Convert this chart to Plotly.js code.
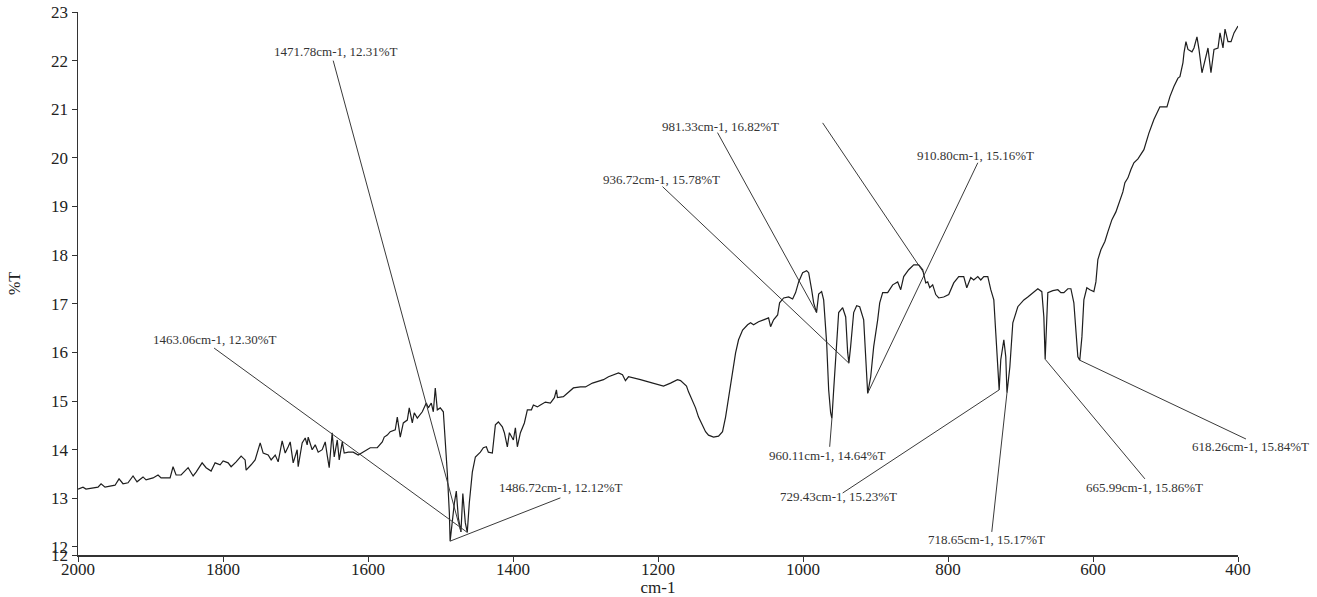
<!DOCTYPE html>
<html>
<head>
<meta charset="utf-8">
<script src="https://cdn.plot.ly/plotly-3.0.1.min.js"></script>
<style>html,body{margin:0;padding:0;background:#fff;}#chart{width:1317px;height:597px;}</style>
</head>
<body>
<div id="chart"></div>
<script>
// Spectrum: wavenumber (cm-1) and transmittance (%T)
const wavenumber = [
2000,1993.1,1989.0,1972.4,1968.2,1962.7,1948.9,1943.4,1937.9,1931.0,1924.1,1918.6,1910.3,1906.1,1896.5,1889.6,1885.4,1873.0,1868.9,1864.7,
1857.8,1848.1,1841.2,1837.1,1828.8,1823.3,1816.4,1810.9,1804.0,1799.8,1792.9,1788.8,1781.9,1775.0,1769.5,1768.1,1761.2,1755.7,1748.7,1744.6,
1737.7,1733.6,1728.0,1723.9,1718.4,1714.2,1710.1,1707.3,1703.2,1697.7,1696.3,1690.8,1686.6,1683.9,1682.5,1677.0,1672.8,1668.7,1663.2,1659.0,
1656.3,1653.5,1649.4,1646.6,1642.4,1639.7,1635.5,1632.8,1627.3,1620.4,1613.5,1606.6,1596.9,1587.2,1580.3,1577.6,1573.4,1569.3,1562.4,1559.6,
1555.5,1551.3,1545.8,1543.1,1538.9,1536.2,1532.0,1525.1,1519.6,1516.8,1512.7,1509.9,1507.2,1504.4,1500.3,1496.1,1493.4,1490.6,1487.8,1486.72,
1480.9,1478.2,1475.4,1471.78,1469.2,1465.8,1463.06,1460.3,1456.1,1451.9,1445.0,1440.9,1436.8,1434.0,1428.5,1424.3,1420.2,1414.7,1411.9,1407.8,
1405.0,1399.5,1396.7,1394.0,1389.8,1384.3,1380.2,1374.6,1371.9,1366.4,1362.2,1355.3,1348.4,1342.9,1340.1,1338.7,1330.5,1323.6,1316.7,1307.0,
1300.1,1290.4,1283.5,1275.2,1268.3,1261.4,1254.5,1249.0,1244.9,1240.7,1233.8,1224.2,1214.5,1206.2,1192.4,1182.7,1173.1,1168.9,1164.8,1160.7,
1157.9,1152.4,1148.2,1144.1,1138.6,1134.4,1130.3,1123.4,1116.5,1111.0,1106.8,1102.7,1097.2,1093.0,1088.9,1083.3,1076.4,1072.3,1068.2,1061.3,
1054.4,1047.5,1044.7,1040.6,1035.0,1032.3,1026.7,1019.8,1014.3,1010.2,1006.0,1000.5,995.0,992.2,988.1,985.3,981.33,978.4,974.3,971.5,
967.4,964.6,961.9,960.11,957.7,953.6,950.8,945.3,941.1,938.4,936.72,934.3,930.1,926.0,921.8,916.3,913.5,910.80,906.6,902.5,
897.0,894.2,890.1,883.2,876.3,869.4,865.2,861.1,854.2,847.3,840.4,834.9,830.7,828.0,825.2,821.1,816.9,812.8,805.9,799.0,
792.1,785.2,778.3,774.1,768.6,764.5,758.9,754.8,750.6,745.1,741.0,736.8,734.1,729.43,727.2,723.0,720.3,718.65,714.7,710.6,
703.7,695.4,689.9,681.6,676.1,670.6,667.8,665.99,663.7,662.3,655.4,648.5,644.3,640.2,634.7,630.5,626.4,623.6,620.9,618.26,
615.3,612.6,608.5,604.3,598.8,596.0,593.3,589.1,583.6,579.5,573.9,568.4,564.3,558.8,556.0,551.8,547.7,543.6,538.0,529.8,
522.9,516.0,507.7,498.0,493.9,488.4,482.8,480.1,475.9,474.5,471.8,469.0,463.5,460.7,456.6,453.8,449.7,445.6,441.4,437.3,
433.1,427.6,424.8,420.7,417.9,413.8,409.6,405.5,402.7,400.0
];
const transmittance = [
13.19,13.23,13.19,13.23,13.30,13.23,13.27,13.40,13.30,13.32,13.46,13.34,13.44,13.38,13.42,13.48,13.42,13.42,13.65,13.48,
13.48,13.63,13.46,13.54,13.73,13.63,13.56,13.73,13.69,13.77,13.73,13.65,13.75,13.87,13.79,13.58,13.69,13.79,14.14,13.93,
13.89,13.79,13.89,13.75,14.18,13.93,14.06,14.16,13.73,14.00,13.65,14.14,14.24,14.10,14.26,14.00,14.10,13.95,14.00,14.16,
13.89,13.63,14.35,13.85,14.20,13.79,14.16,13.93,13.95,13.95,13.89,13.95,14.04,14.04,14.16,14.26,14.30,14.37,14.41,14.67,
14.26,14.55,14.61,14.86,14.55,14.76,14.65,14.78,14.96,14.86,14.96,14.78,15.27,14.82,14.86,14.78,14.26,13.52,12.70,12.12,
12.90,13.15,12.60,12.31,13.10,12.50,12.30,12.90,13.54,13.85,13.95,14.04,14.06,13.95,13.93,14.51,14.57,14.47,14.35,14.06,
14.35,14.20,14.45,14.06,14.35,14.55,14.82,14.82,14.92,14.88,14.92,14.98,14.96,15.07,15.23,15.07,15.09,15.19,15.27,15.29,
15.29,15.37,15.40,15.44,15.50,15.54,15.58,15.54,15.42,15.50,15.48,15.44,15.40,15.37,15.31,15.37,15.44,15.42,15.37,15.31,
15.19,15.02,14.86,14.67,14.49,14.37,14.30,14.26,14.28,14.37,14.67,15.09,15.60,15.99,16.26,16.46,16.57,16.61,16.57,16.63,
16.67,16.71,16.53,16.67,16.77,17.02,17.12,17.14,17.10,17.23,17.45,17.64,17.68,17.64,17.29,17.02,16.82,17.20,17.25,17.08,
16.20,15.23,14.76,14.64,15.23,16.26,16.82,16.92,16.73,16.00,15.78,16.12,16.82,16.96,16.94,16.67,15.79,15.16,15.50,16.12,
16.67,17.02,17.23,17.23,17.39,17.45,17.29,17.56,17.70,17.80,17.80,17.70,17.43,17.45,17.33,17.39,17.19,17.12,17.14,17.19,
17.43,17.56,17.56,17.33,17.54,17.49,17.56,17.49,17.56,17.56,17.29,17.08,16.40,15.23,15.85,16.26,15.91,15.17,15.70,16.61,
16.94,17.08,17.14,17.25,17.31,17.25,16.73,15.86,16.73,17.23,17.27,17.29,17.23,17.23,17.31,17.31,17.02,16.40,15.91,15.84,
16.32,17.08,17.33,17.29,17.25,17.45,17.91,18.11,18.28,18.48,18.73,18.89,19.08,19.30,19.49,19.59,19.76,19.90,19.98,20.17,
20.51,20.79,21.05,21.05,21.26,21.47,21.64,21.67,21.96,22.16,22.39,22.23,22.18,22.26,22.49,22.23,21.75,22.02,22.26,21.75,
22.23,22.26,22.57,22.26,22.65,22.39,22.39,22.57,22.63,22.71
];

// Marked peaks (from the annotation labels)
const peakWn = [1471.78, 1463.06, 1486.72, 981.33, 936.72, 910.80, 960.11, 729.43, 718.65, 665.99, 618.26];
const peakT  = [12.31, 12.30, 12.12, 16.82, 15.78, 15.16, 14.64, 15.23, 15.17, 15.86, 15.84];

// Label placement (data coordinates) and leader-line start points
const labelX = [1644.5, 1810.9, 1333.2, 1113.7, 1195.2, 761.7, 966.0, 950.8, 746.5, 528.4, 383.4];
const labelY = [22.19, 16.26, 13.23, 20.64, 19.55, 20.05, 13.89, 13.03, 12.16, 13.23, 14.06];
const leadX  = [1648.0, 1812.3, 1334.6, 1117.9, 1193.8, 758.9, 963.2, 945.3, 739.6, 528.4, 389.0];
const leadY  = [22.00, 16.09, 13.01, 20.52, 19.41, 19.90, 14.06, 13.11, 12.31, 13.40, 14.22];
// extra leader line whose label is hidden in the original
const extraLead = {x0: 972.9, y0: 20.72, x1: 833.5, y1: 17.64};

const xRange = [2000, 400];
const yRange = [11.835, 23];
const xTicks = [2000, 1800, 1600, 1400, 1200, 1000, 800, 600, 400];
const yTickVals = [11.835, 12, 13, 14, 15, 16, 17, 18, 19, 20, 21, 22, 23];
const yTickText = ['12', '12', '13', '14', '15', '16', '17', '18', '19', '20', '21', '22', '23'];

const FONT = 'Liberation Serif, Times New Roman, serif';
const labelText = (w, t) => w.toFixed(2) + 'cm-1, ' + t.toFixed(2) + '%T';
// wavenumber -> fraction of the x axis (so labels beyond the axis end still show)
const xFrac = w => (xRange[0] - w) / (xRange[0] - xRange[1]);
const inRange = w => w <= xRange[0] && w >= xRange[1];

const LINE = {color: '#3a3a3a', width: 1};
const shapes = peakWn.map((w, i) => {
  if (inRange(leadX[i])) {
    return {type: 'line', xref: 'x', yref: 'y', x0: leadX[i], y0: leadY[i], x1: w, y1: peakT[i], line: LINE};
  }
  return {type: 'line', xref: 'paper', yref: 'y', x0: xFrac(leadX[i]), y0: leadY[i], x1: xFrac(w), y1: peakT[i], line: LINE};
});
shapes.push({type: 'line', xref: 'x', yref: 'y', x0: extraLead.x0, y0: extraLead.y0,
  x1: extraLead.x1, y1: extraLead.y1, line: LINE});

const annotations = peakWn.map((w, i) => ({
  x: xFrac(labelX[i]), y: labelY[i], xref: 'paper', yref: 'y',
  text: labelText(w, peakT[i]), showarrow: false,
  xanchor: 'center', yanchor: 'middle',
  font: {family: FONT, size: 13, color: '#333'}
}));

const trace = {
  x: wavenumber, y: transmittance, type: 'scatter', mode: 'lines',
  line: {color: '#1e1e1e', width: 1.2}, hoverinfo: 'x+y'
};

const layout = {
  width: 1317, height: 597,
  margin: {l: 78, r: 79, t: 12, b: 42},
  paper_bgcolor: '#fff', plot_bgcolor: '#fff',
  showlegend: false,
  font: {family: FONT, size: 17, color: '#222'},
  xaxis: {
    range: xRange, tickvals: xTicks, ticks: 'outside', ticklen: 5, tickwidth: 1,
    tickcolor: '#333', showline: true, linecolor: '#333', linewidth: 1.5,
    showgrid: false, zeroline: false, ticklabelstandoff: -7,
    tickfont: {family: FONT, size: 17, color: '#222'},
    title: {text: 'cm-1', font: {family: FONT, size: 17, color: '#222'}, standoff: 0}
  },
  yaxis: {
    range: yRange, tickvals: yTickVals, ticktext: yTickText,
    ticks: 'outside', ticklen: 5, tickwidth: 1, tickcolor: '#333',
    showline: true, linecolor: '#333', linewidth: 1.5,
    showgrid: false, zeroline: false,
    tickfont: {family: FONT, size: 17, color: '#222'},
    title: {text: '%T', font: {family: FONT, size: 16, color: '#222'}, standoff: 26}
  },
  shapes: shapes,
  annotations: annotations
};

Plotly.newPlot('chart', [trace], layout, {displayModeBar: false, staticPlot: true});
</script>
</body>
</html>
